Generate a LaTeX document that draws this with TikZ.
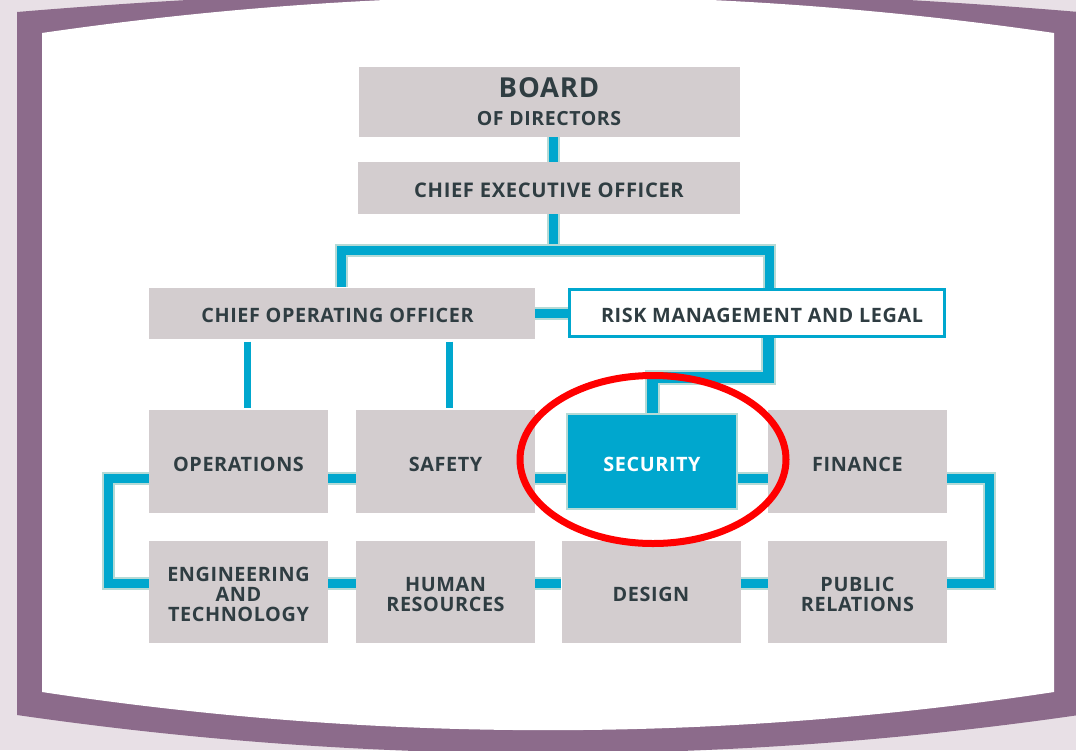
\documentclass[tikz,border=0pt]{standalone}
\usepackage{fontspec}
\setmainfont{Open Sans}[LetterSpace=3]
\usetikzlibrary{calc}

\definecolor{pagebg}{HTML}{E8E0E6}
\definecolor{framepurple}{HTML}{8C6B8B}
\definecolor{boxgray}{HTML}{D3CDCF}
\definecolor{inkdark}{HTML}{2F3D42}
\definecolor{linkcyan}{HTML}{00A7CE}
\definecolor{linkhalo}{HTML}{B5DAD6}

\begin{document}
\begin{tikzpicture}[x=1pt,y=-1pt]
            \tikzstyle{every node}+=[inner sep=0pt, align=center, text=inkdark, font=\bfseries\fontsize{19.8}{20}\selectfont]
            \tikzstyle{unit}=[fill=boxgray, minimum width=179, minimum height=103]
            \tikzstyle{oneline}=[text height=20pt]
            \tikzstyle{twoline}=[text height=40pt]
            \tikzstyle{threeline}=[text height=60pt]
            \tikzstyle{link}=[draw=linkcyan, line width=9, preaction={draw=linkhalo, line width=13}]
            \tikzstyle{trunk}=[draw=linkcyan, line width=11, preaction={draw=linkhalo, line width=15}]
            \tikzstyle{drop}=[draw=linkcyan, line width=7]
            \useasboundingbox (0,0) rectangle (1076,750);
            % frame
            \fill [pagebg] (0,0) rectangle (1076,750);
            \fill [framepurple] (17,12) .. controls (371,-17.7) and (725,-17.7) .. (1079,12) -- (1079,715)
              .. controls (725,766.2) and (371,766.2) .. (17,715) -- cycle;
            \fill [white] (42,33) .. controls (379.3,-16.1) and (716.7,-16.1) .. (1054,33) -- (1054,692)
              .. controls (716.7,742.9) and (379.3,742.9) .. (42,692) -- cycle;
            % top of the chart
            \node [unit, minimum width=381, minimum height=70] (board) at (549,102)
              {\fontsize{27.5}{24}\selectfont BOARD\\[8pt]\fontsize{19.5}{20}\selectfont OF DIRECTORS};
            \node [unit, oneline, minimum width=382, minimum height=52, font=\bfseries\fontsize{20.2}{20}\selectfont] (ceo) at (549,188) {CHIEF EXECUTIVE OFFICER};
            \node [unit, oneline, minimum width=386, minimum height=51] (coo) at (341.5,313) {\hspace*{-8pt}CHIEF OPERATING OFFICER};
            \node [oneline, fill=white, draw=linkcyan, line width=3.5, minimum width=375, minimum height=47] (risk) at (757,313) {\hspace*{10pt}RISK MANAGEMENT AND LEGAL};
            % departments
            \node [unit, oneline] (ops) at (238.5,461.5) {OPERATIONS};
            \node [unit, oneline] (safety) at (445.5,461.5) {SAFETY};
            \node [unit, oneline, fill=linkcyan, text=white, draw=linkhalo, line width=1.5, minimum width=170, minimum height=95] (security) at (652,461.5) {SECURITY};
            \node [unit, oneline] (finance) at (857.5,461.5) {FINANCE};
            \node [unit, threeline, minimum height=102] (eng) at (238.5,592) {ENGINEERING\\AND\\TECHNOLOGY};
            \node [unit, twoline, minimum height=102] (hr) at (445.5,592) {HUMAN\\RESOURCES};
            \node [unit, oneline, minimum height=102] (design) at (651,592) {DESIGN};
            \node [unit, twoline, minimum height=102] (pr) at (857.5,592) {PUBLIC\\RELATIONS};
            % connectors
            \coordinate (split) at ($(ceo.south)+(4,36)$);
            \draw [link] ($(board.south)+(4,0)$) -- ($(ceo.north)+(4,0)$);
            \draw [link] ($(ceo.south)+(4,0)$) -- (split);
            \draw [link] (coo.north) |- (split) -| ($(risk.north)+(12,0)$);
            \draw [link] (coo.east) -- (risk.west);
            \draw [trunk] ($(risk.south)+(11,0)$) -- ++(0,39) -| (security.north);
            \draw [drop] ($(ops.north |- coo.south)+(8.5,3)$) -- ($(ops.north)+(8.5,-2)$);
            \draw [drop] ($(safety.north |- coo.south)+(3.5,3)$) -- ($(safety.north)+(3.5,-2)$);
            \foreach \a/\b in {ops/safety, safety/security, security/finance}
              \draw [link] ($(\a.east)+(0,16.5)$) -- ($(\b.west)+(0,16.5)$);
            \foreach \a/\b in {eng/hr, hr/design, design/pr}
              \draw [link] ($(\a.east)+(0,-9)$) -- ($(\b.west)+(0,-9)$);
            \draw [link] ($(ops.west)+(0,16.5)$) -- ++(-40,0) |- ($(eng.west)+(0,-9)$);
            \draw [link] ($(finance.east)+(0,16.5)$) -- ++(42,0) |- ($(pr.east)+(0,-9)$);
            % highlight
            \draw [red, line width=7] (653,459.5) ellipse [x radius=133pt, y radius=84pt];
        \end{tikzpicture}
\end{document}
